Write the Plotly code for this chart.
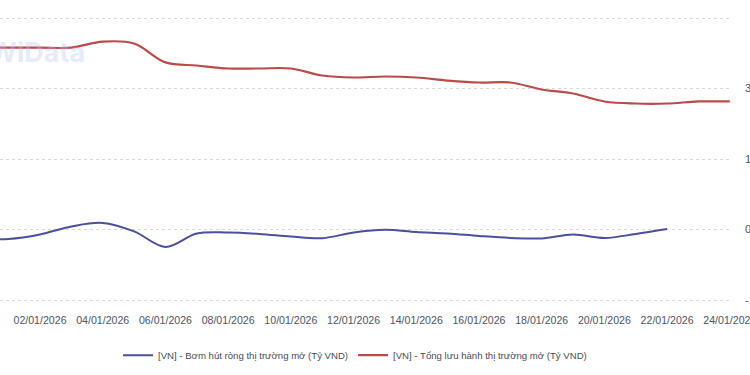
import plotly.graph_objects as go

dates = ["2025-12-31", "2026-01-01", "2026-01-02", "2026-01-03", "2026-01-04", "2026-01-05",
         "2026-01-06", "2026-01-07", "2026-01-08", "2026-01-09", "2026-01-10", "2026-01-11",
         "2026-01-12", "2026-01-13", "2026-01-14", "2026-01-15", "2026-01-16", "2026-01-17",
         "2026-01-18", "2026-01-19", "2026-01-20", "2026-01-21", "2026-01-22", "2026-01-23",
         "2026-01-24"]

# [VN] - Bơm hút ròng thị trường mở (Tỷ VND) -> right axis
net_injection = [-1900, -2000, -1050, 650, 1400, -400, -3700, -850, -650, -950, -1500, -1850,
                 -650, -60, -530, -850, -1380, -1800, -1900, -1060, -1800, -950, 100]

# [VN] - Tổng lưu hành thị trường mở (Tỷ VND) -> left (hidden) axis
outstanding = [258000, 258000, 258000, 258000, 266500, 263800, 237000, 232600, 228400, 228400,
               228400, 218400, 215600, 217000, 215600, 211300, 208500, 208500, 198600, 192900,
               181600, 178700, 178700, 181600, 181600]

right_tickvals = [-15000, 0, 15000, 30000, 45000]
right_ticktext = ["-15,000", "0", "15,000", "30,000", ""]

name_blue = "[VN] - Bơm hút ròng thị trường mở (Tỷ VND)"
name_red = "[VN] - Tổng lưu hành thị trường mở (Tỷ VND)"

fig = go.Figure()
fig.add_trace(go.Scatter(x=dates[:len(net_injection)], y=net_injection, name=name_blue,
                         mode="lines", line=dict(color="#4b4f9e", width=2, shape="spline", smoothing=1),
                         yaxis="y2"))
fig.add_trace(go.Scatter(x=dates, y=outstanding, name=name_red,
                         mode="lines", line=dict(color="#b94b4b", width=2.2, shape="spline", smoothing=1),
                         yaxis="y"))

fig.add_annotation(text="<b>WiData</b>", xref="paper", yref="paper", x=0.119, y=0.855,
                   xanchor="right", yanchor="middle", showarrow=False,
                   font=dict(size=27, color="rgba(185,195,245,0.35)", family="Inter, Arial"))

fig.update_layout(
    width=750, height=375, autosize=False,
    margin=dict(l=0, r=18, t=10, b=70),
    paper_bgcolor="white", plot_bgcolor="white",
    font=dict(family="Liberation Sans, Arial, sans-serif", size=11, color="#4d5566"),
    showlegend=True,
    legend=dict(orientation="h", x=0.485, xanchor="center", y=-0.17, yanchor="middle",
                font=dict(size=9.6, color="#4a4a55"), itemwidth=30, traceorder="normal"),
    xaxis=dict(type="date", range=["2025-12-31 17:22", "2026-01-24 01:40"],
               tick0="2026-01-02", dtick=2 * 86400000, tickformat="%d/%m/%Y",
               showgrid=False, showline=False, zeroline=False, ticks="",
               ticklabelstandoff=7, ticklabeloverflow="allow",
               tickfont=dict(size=10.6, color="#4d5566"), automargin=False),
    yaxis=dict(range=[-107092, 311347], showgrid=False, zeroline=False,
               showticklabels=False, ticks="", automargin=False),
    yaxis2=dict(overlaying="y", side="right", range=[-16064, 46702],
                tickvals=right_tickvals, ticktext=right_ticktext,
                showgrid=True, gridcolor="#d9d9d9", griddash="dot", gridwidth=1,
                zeroline=False, ticks="", ticklabelstandoff=12, ticklabeloverflow="allow",
                tickfont=dict(size=11, color="#4d5566"), automargin=False),
)

fig.write_html("out.html")
